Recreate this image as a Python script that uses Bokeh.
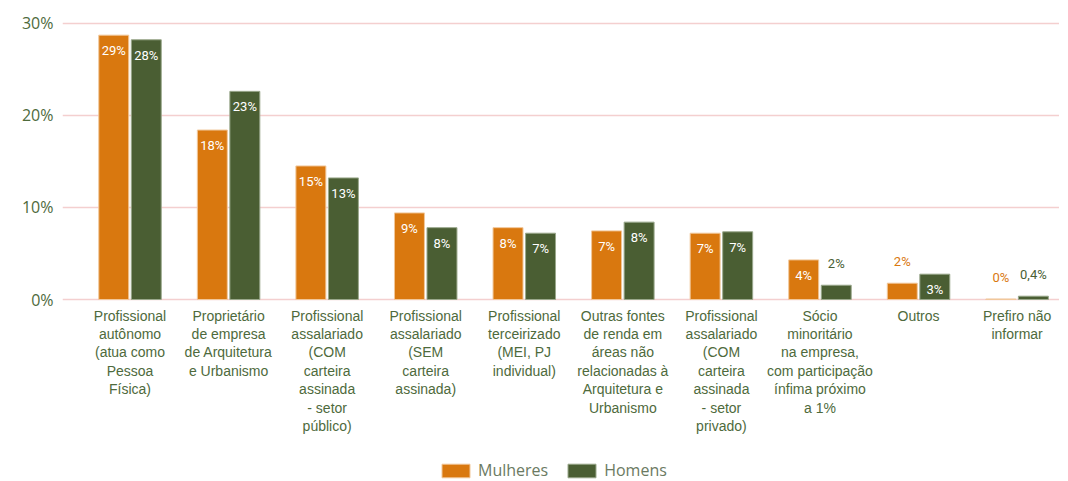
from bokeh.plotting import figure
from bokeh.models import ColumnDataSource, FixedTicker, Legend, LegendItem, Range1d
from bokeh.transform import dodge
from bokeh.core.properties import value
from bokeh.embed import file_html
from bokeh.resources import INLINE

categories = [
    "Profissional\nautônomo\n(atua como\nPessoa\nFísica)",
    "Proprietário\nde empresa\nde Arquitetura\ne Urbanismo",
    "Profissional\nassalariado\n(COM\ncarteira\nassinada\n- setor\npúblico)",
    "Profissional\nassalariado\n(SEM\ncarteira\nassinada)",
    "Profissional\nterceirizado\n(MEI, PJ\nindividual)",
    "Outras fontes\nde renda em\náreas não\nrelacionadas à\nArquitetura e\nUrbanismo",
    "Profissional\nassalariado\n(COM\ncarteira\nassinada\n- setor\nprivado)",
    "Sócio\nminoritário\nna empresa,\ncom participação\nínfima próximo\na 1%",
    "Outros",
    "Prefiro não\ninformar",
]
mulheres = [28.7, 18.4, 14.5, 9.4, 7.8, 7.45, 7.2, 4.3, 1.77, 0.05]
homens = [28.2, 22.6, 13.2, 7.8, 7.2, 8.4, 7.35, 1.55, 2.75, 0.36]
mulheres_labels = ["29%", "18%", "15%", "9%", "8%", "7%", "7%", "4%", "2%", "0%"]
homens_labels = ["28%", "23%", "13%", "8%", "7%", "8%", "7%", "2%", "3%", "0,4%"]
y_ticks = [0, 10, 20, 30]

ORANGE = "#D9780F"
GREEN = "#4A5E33"
TXT = "#4E6A3C"
GRID = "#F4CFCF"

xs = list(range(len(categories)))
INSIDE_MIN = 2.5

def make_source(vals, labels):
    return ColumnDataSource(dict(
        x=xs, v=vals,
        lab_in=[l if v >= INSIDE_MIN else "" for v, l in zip(vals, labels)],
        lab_out=[l if v < INSIDE_MIN else "" for v, l in zip(vals, labels)],
    ))

src_m = make_source(mulheres, mulheres_labels)
src_h = make_source(homens, homens_labels)
src_cat = ColumnDataSource(dict(x=xs, y=[0] * len(xs), t=categories))

# the frame also holds the category-label and legend band below the 0% line
p = figure(frame_width=997, frame_height=463, output_backend="svg", toolbar_location=None,
           x_range=Range1d(-0.685, 9.43), y_range=Range1d(-19.76, 30.51),
           x_axis_location=None,
           min_border_left=62, min_border_right=0, min_border_top=18,
           min_border_bottom=0)
p.outline_line_color = None
p.background_fill_color = "white"

OFF = 0.165
W = 0.304
r_m = p.vbar(x=dodge("x", -OFF), top="v", width=W, source=src_m,
             fill_color=ORANGE, line_color="#f1c79a", line_width=1)
r_h = p.vbar(x=dodge("x", OFF), top="v", width=W, source=src_h,
             fill_color=GREEN, line_color="#9aa88c", line_width=1)

font = value("Roboto")
for src, dx, col in [(src_m, -OFF, ORANGE), (src_h, OFF, GREEN)]:
    p.text(x=dodge("x", dx), y="v", text="lab_in", source=src,
           text_color="white", text_font=font, text_font_size="13px",
           text_align="center", text_baseline="top", y_offset=8)
    p.text(x=dodge("x", dx), y="v", text="lab_out", source=src,
           text_color=col, text_font=font, text_font_size="13px",
           text_align="center", text_baseline="bottom", y_offset=-14)

# category labels under the baseline
p.text(x="x", y="y", text="t", source=src_cat, text_color=TXT,
       text_font=value("Liberation Sans"), text_font_size="14px",
       text_align="center", text_baseline="top", text_line_height=1.15,
       y_offset=8)

p.yaxis.ticker = FixedTicker(ticks=y_ticks)
p.yaxis.major_label_overrides = {t: f"{t}%" for t in y_ticks}
p.yaxis.major_label_text_font = "Open Sans"
p.yaxis.major_label_text_font_size = "16px"
p.yaxis.major_label_text_color = TXT
p.yaxis.major_label_standoff = 3
p.yaxis.major_tick_line_color = None
p.yaxis.minor_tick_line_color = None
p.yaxis.axis_line_color = None

p.xgrid.grid_line_color = None
p.ygrid.grid_line_color = GRID
p.ygrid.grid_line_width = 1.5

legend = Legend(items=[LegendItem(label="Mulheres", renderers=[r_m]),
                       LegendItem(label="Homens", renderers=[r_h])],
                orientation="horizontal", location=(376, 0),
                glyph_width=35, glyph_height=17, label_text_font="Open Sans",
                label_text_font_size="16px", label_text_color="#6B7A62",
                spacing=16, padding=0, margin=0, border_line_color=None,
                background_fill_alpha=0, label_standoff=5)
p.add_layout(legend, "center")

open("out.html", "w").write(file_html(p, INLINE))
